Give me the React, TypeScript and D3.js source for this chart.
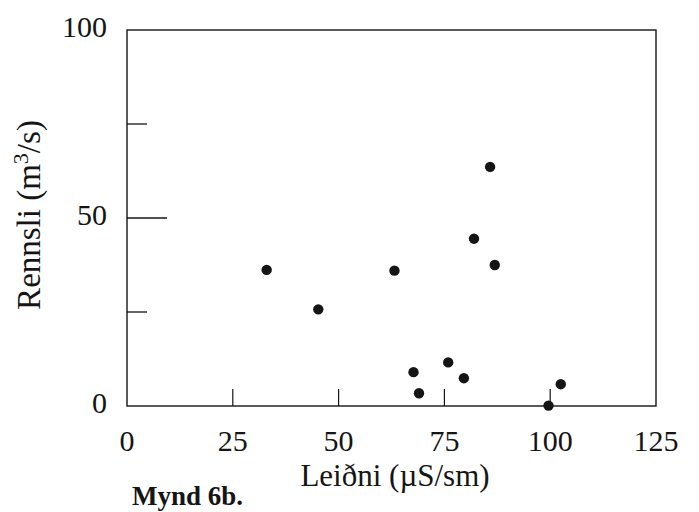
import React from "react";
import * as d3 from "d3";

const conductivity = [33.0, 45.2, 63.2, 85.8, 82.0, 86.9, 75.9, 67.7, 79.6, 69.0, 102.5, 99.6];
const discharge = [36.2, 25.7, 36.0, 63.6, 44.5, 37.5, 11.6, 9.0, 7.4, 3.4, 5.8, 0.1];
const xTicks = [0, 25, 50, 75, 100, 125];
const yTicks = [0, 50, 100];
const yMinorTicks = [25, 75];
const yMajorInner = [50];
const xInnerTicks = [25, 50, 75, 100];

const W = 699;
const H = 512;
const left = 127;
const right = 656;
const top = 30;
const bottom = 406;

const FONT = '"Liberation Serif", "Times New Roman", Times, "DejaVu Serif", serif';

export default function App() {
  const x = d3.scaleLinear().domain([0, 125]).range([left, right]);
  const y = d3.scaleLinear().domain([0, 100]).range([bottom, top]);
  const ink = "#151515";
  const ts = (size: number, weight: string = "normal") => ({
    fontFamily: FONT,
    fontSize: size + "px",
    fontWeight: weight as any,
  });
  return (
    <svg
      width={W}
      height={H}
      style={{ position: "absolute", left: 0, top: 0, background: "#fff", fontFamily: FONT }}
    >
      <rect x={0} y={0} width={W} height={H} fill="#fff" />
      <rect
        x={x(0)}
        y={y(100)}
        width={x(125) - x(0)}
        height={y(0) - y(100)}
        fill="none"
        stroke={ink}
        strokeWidth={1.4}
      />
      {yMinorTicks.map((t) => (
        <line key={"ym" + t} x1={x(0)} x2={x(0) + 20} y1={y(t)} y2={y(t)} stroke={ink} strokeWidth={1.3} />
      ))}
      {yMajorInner.map((t) => (
        <line key={"yM" + t} x1={x(0)} x2={x(0) + 40} y1={y(t)} y2={y(t)} stroke={ink} strokeWidth={1.3} />
      ))}
      {xInnerTicks.map((t) => (
        <line key={"xt" + t} x1={x(t)} x2={x(t)} y1={y(0)} y2={y(0) - 17} stroke={ink} strokeWidth={1.2} />
      ))}
      {yTicks.map((t) => (
        <text key={"yl" + t} x={107} y={y(t) + 7} textAnchor="end" style={ts(30)} fill={ink}>
          {t}
        </text>
      ))}
      {xTicks.map((t) => (
        <text key={"xl" + t} x={x(t)} y={451} textAnchor="middle" style={ts(30)} fill={ink}>
          {t}
        </text>
      ))}
      {conductivity.map((c, i) => (
        <circle key={"p" + i} cx={x(c)} cy={y(discharge[i])} r={5.2} fill={ink} />
      ))}
      <text x={395} y={486} textAnchor="middle" style={ts(31)} fill={ink}>
        Leiðni (µS/sm)
      </text>
      <text
        transform={`translate(40, 215) rotate(-90)`}
        textAnchor="middle"
        style={ts(33)}
        fill={ink}
      >
        Rennsli (m<tspan style={{ fontSize: "22px" }} dy={-12}>3</tspan>
        <tspan dy={12}>/s)</tspan>
      </text>
      <text x={132} y={505} style={ts(27, "bold")} fill={ink}>
        Mynd 6b.
      </text>
    </svg>
  );
}
